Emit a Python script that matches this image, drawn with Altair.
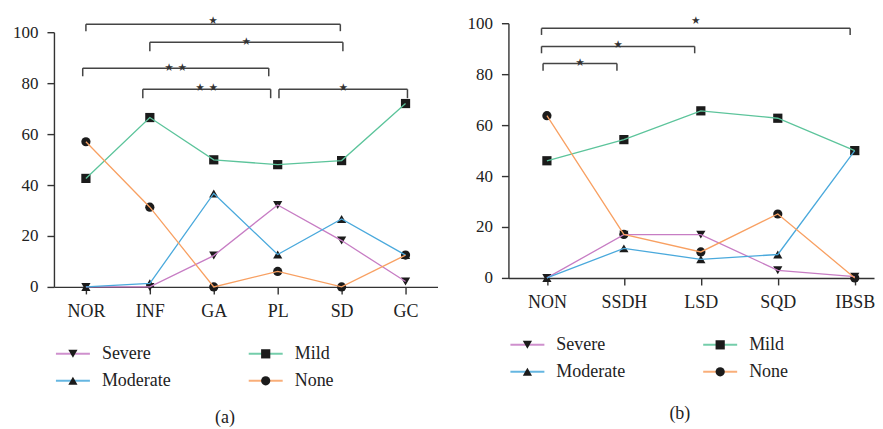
import json
import altair as alt
import pandas as pd

# ---------------- data ----------------
cats_a = ["NOR", "INF", "GA", "PL", "SD", "GC"]
severe_a = [0, 0, 12.3, 32.2, 18.2, 2.1]
moderate_a = [0, 1.4, 36.7, 12.7, 26.7, 12.5]
mild_a = [42.6, 66.5, 49.9, 48.0, 49.6, 72.0]
none_a = [57.0, 31.3, 0, 6.1, 0, 12.5]

cats_b = ["NON", "SSDH", "LSD", "SQD", "IBSB"]
severe_b = [0, 17.0, 17.0, 3.0, 0.5]
moderate_b = [0, 11.6, 7.3, 9.2, 50.0]
mild_b = [46.0, 54.3, 65.6, 62.7, 50.0]
none_b = [63.7, 17.1, 10.2, 25.1, 0]

series_names = ["Severe", "Moderate", "Mild", "None"]
series_colors = ["#c77dc4", "#4aa9dc", "#5cc49b", "#f8a062"]
series_shapes = ["triangle-down", "triangle-up", "square", "circle"]
series_sizes = [85, 85, 90, 66]

# significance brackets: left, right, label, bar level, tick end, label level
brackets_a = [
    ("NOR", "SD", "⋆", 103.1, 100.4, 106.7),
    ("INF", "SD", "⋆", 96.1, 92.5, 98.4),
    ("NOR", "PL", "⋆⋆", 85.9, 82.7, 88.2),
    ("INF", "PL", "⋆⋆", 77.6, 74.1, 80.4),
    ("PL", "GC", "⋆", 77.6, 74.1, 80.4),
]
nudges_a = [(0.0, -0.02), (0.0, 0.02), (-0.05, -0.14), (-0.11, -0.11), (0.02, 0.03)]

brackets_b = [
    ("NON", "IBSB", "⋆", 98.0, 95.4, 103.3),
    ("NON", "LSD", "⋆", 90.9, 88.2, 93.7),
    ("NON", "SSDH", "⋆", 84.2, 81.3, 86.8),
]
nudges_b = [(-0.07, -0.06), (-0.07, -0.08), (-0.05, -0.09)]

SERIF = "Liberation Serif"

color_scale = alt.Scale(domain=series_names, range=series_colors)
shape_scale = alt.Scale(domain=series_names, range=series_shapes)
size_scale = alt.Scale(domain=series_names, range=series_sizes)


def make_plot(cats, vals, brackets, nudges, width, xmax):
    rows = []
    for s, arr in zip(series_names, vals):
        for i, v in enumerate(arr):
            rows.append({"idx": i, "value": v, "series": s})
    df = pd.DataFrame(rows)

    xscale = alt.Scale(domain=[-0.5, xmax], nice=False, zero=False)
    yscale = alt.Scale(domain=[0, 100], nice=False, zero=True)
    xaxis = alt.Axis(
        values=list(range(len(cats))),
        labelExpr=f"{json.dumps(cats)}[datum.value]",
        title=None, grid=False, tickSize=7, labelPadding=9,
        labelFont=SERIF, labelFontSize=18,
    )
    yaxis = alt.Axis(
        values=[0, 20, 40, 60, 80, 100], title=None, grid=False,
        tickSize=7, labelPadding=9, labelFont=SERIF, labelFontSize=17,
    )

    base = alt.Chart(df)
    pts = base.mark_point(filled=True, color="#1b1b1b", opacity=1).encode(
        x=alt.X("idx:Q", scale=xscale, axis=xaxis),
        y=alt.Y("value:Q", scale=yscale, axis=yaxis),
        shape=alt.Shape("series:N", scale=shape_scale, legend=None),
        size=alt.Size("series:N", scale=size_scale, legend=None),
    )
    lines = base.mark_line(strokeWidth=1.3).encode(
        x=alt.X("idx:Q", scale=xscale),
        y=alt.Y("value:Q", scale=yscale),
        color=alt.Color("series:N", scale=color_scale, legend=None),
    )

    seg_rows, star_rows = [], []
    for (l, r, lab, bar, bot, lv), (nl, nr) in zip(brackets, nudges):
        x1 = cats.index(l) + nl
        x2 = cats.index(r) + nr
        seg_rows.append({"x": x1, "x2": x2, "y": bar, "y2": bar})
        seg_rows.append({"x": x1, "x2": x1, "y": bar, "y2": bot})
        seg_rows.append({"x": x2, "x2": x2, "y": bar, "y2": bot})
        star_rows.append({"x": (x1 + x2) / 2, "y": lv, "t": lab})
    seg = alt.Chart(pd.DataFrame(seg_rows)).mark_rule(
        color="#444444", strokeWidth=1.5
    ).encode(
        x=alt.X("x:Q", scale=xscale), x2="x2:Q",
        y=alt.Y("y:Q", scale=yscale), y2="y2:Q",
    )
    stars = alt.Chart(pd.DataFrame(star_rows)).mark_text(
        font="DejaVu Sans", fontSize=21, color="#333333", baseline="middle", dy=6
    ).encode(
        x=alt.X("x:Q", scale=xscale), y=alt.Y("y:Q", scale=yscale), text="t:N"
    )
    return alt.layer(pts, lines, seg, stars).properties(width=width, height=255)


def make_legend(width):
    ldf = pd.DataFrame({
        "series": series_names,
        "col": [0, 0, 1, 1],
        "row": [0, 1, 0, 1],
    })
    lx = alt.Scale(domain=[0, 1], range=[19, 212])
    ly = alt.Scale(domain=[0, 1], range=[33, 60])
    base = alt.Chart(ldf)
    rule = base.mark_rule(strokeWidth=2, opacity=0.85, xOffset=-17, x2Offset=17).encode(
        x=alt.X("col:Q", scale=lx, axis=None), x2="col:Q",
        y=alt.Y("row:Q", scale=ly, axis=None),
        color=alt.Color("series:N", scale=color_scale, legend=None),
    )
    pt = base.mark_point(filled=True, color="#1b1b1b", opacity=1).encode(
        x=alt.X("col:Q", scale=lx, axis=None),
        y=alt.Y("row:Q", scale=ly, axis=None),
        shape=alt.Shape("series:N", scale=shape_scale, legend=None),
        size=alt.Size("series:N", scale=size_scale, legend=None),
    )
    txt = base.mark_text(
        align="left", baseline="middle", dx=29, font=SERIF, fontSize=18, color="#222222"
    ).encode(
        x=alt.X("col:Q", scale=lx, axis=None),
        y=alt.Y("row:Q", scale=ly, axis=None),
        text="series:N",
    )
    return alt.layer(rule, pt, txt).properties(width=width, height=73)


def make_spacer():
    return alt.Chart(pd.DataFrame({"v": [0]})).mark_point(opacity=0, size=0).encode(
        x=alt.value(0), y=alt.value(0)
    ).properties(width=1, height=1)


def make_panel(cats, vals, brackets, nudges, width, xmax, label, dx, offset):
    return alt.vconcat(
        make_spacer(),
        make_plot(cats, vals, brackets, nudges, width, xmax),
        make_legend(width),
        spacing=0,
    ).properties(
        title=alt.TitleParams(
            label, orient="bottom", anchor="middle", font=SERIF, fontSize=18,
            fontWeight="normal", color="#222222", offset=offset, dx=dx,
        )
    )


panel_a = make_panel(cats_a, [severe_a, moderate_a, mild_a, none_a],
                     brackets_a, nudges_a, 384, 5.5, "(a)", 0, 15)
panel_b = make_panel(cats_b, [severe_b, moderate_b, mild_b, none_b],
                     brackets_b, nudges_b, 366, 4.25, "(b)", 9, 20)

chart = alt.hconcat(panel_a, panel_b, spacing=29).properties(
    padding={"left": 4, "top": 0, "right": 0, "bottom": 0},
).configure_view(stroke=None).configure_axis(
    domainColor="#333333", domainWidth=1.4, tickColor="#333333", tickWidth=1.4,
    labelColor="#222222", labelFont=SERIF, labelFontSize=17,
)

chart.save("out.html", embed_options={"renderer": "svg", "actions": False})
